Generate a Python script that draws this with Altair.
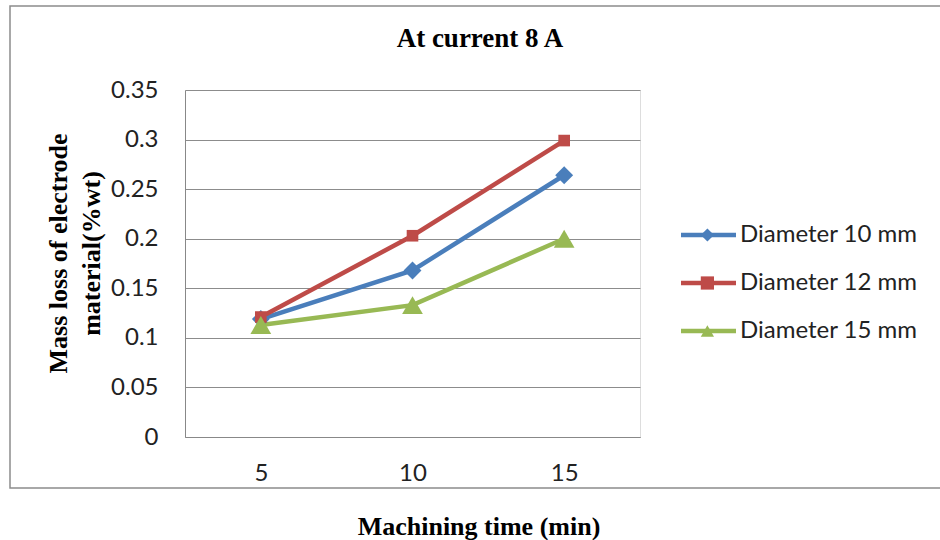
import altair as alt
import pandas as pd

times = [5, 10, 15]
series_names = ["Diameter 10 mm", "Diameter 12 mm", "Diameter 15 mm"]
d10 = [0.119, 0.168, 0.264]
d12 = [0.121, 0.203, 0.299]
d15 = [0.113, 0.133, 0.200]
y_ticks = [0, 0.05, 0.1, 0.15, 0.2, 0.25, 0.3, 0.35]

colors = ["#4A7EBB", "#BE4B48", "#98B954"]
shapes = ["diamond", "square", "triangle-up"]
point_sizes = [320, 135, 430]
marker_keys = ["m10", "m12", "m15"]

rows = []
for name, key, vals in zip(series_names, marker_keys, [d10, d12, d15]):
    for t, v in zip(times, vals):
        rows.append({"time": t, "value": v, "series": name, "marker": key})
df = pd.DataFrame(rows)

LABEL_FONT = "Lato"
SERIF = "Liberation Serif"

x_enc = alt.X(
    "time:O",
    scale=alt.Scale(type="point", padding=0.5),
    axis=alt.Axis(
        labelAngle=0, ticks=False, tickSize=0, labelPadding=24, grid=False,
        domainColor="#888888", domainWidth=1,
        labelFont=LABEL_FONT, labelFontSize=24, labelColor="#222222",
        title="Machining time (min)", titleFont=SERIF, titleFontWeight="bold",
        titleFontSize=26, titleColor="#000000",
        titleX=293.5, titleY=89, titleBaseline="middle", titleAlign="center",
    ),
)
y_enc = alt.Y(
    "value:Q",
    scale=alt.Scale(domain=[0, 0.35], nice=False, zero=True),
    axis=alt.Axis(
        values=y_ticks, format="~g", grid=True, gridColor="#8c8c8c", gridWidth=1,
        ticks=False, tickSize=0, labelPadding=27,
        domainColor="#888888", domainWidth=1,
        labelFont=LABEL_FONT, labelFontSize=24, labelColor="#222222",
        title=["Mass loss of electrode", "material(%wt)"],
        titleFont=SERIF, titleFontWeight="bold", titleFontSize=26,
        titleColor="#000000", titleLineHeight=33,
        titleAngle=270, titleX=-140, titleY=163,
        titleBaseline="top", titleAlign="center",
    ),
)

legend_common = dict(
    title=None, orient="none", legendY=133,
    labelFont=LABEL_FONT, labelFontSize=24, labelLimit=400,
    rowPadding=24, padding=0, direction="vertical",
)

border = alt.Chart(pd.DataFrame({"k": [0]})).mark_rect(
    fill="white", fillOpacity=0, stroke="#8c8c8c", strokeWidth=1.5
).encode(
    x=alt.value(-175), x2=alt.value(800), y=alt.value(-84), y2=alt.value(398)
)

lines = alt.Chart(df).mark_line(strokeWidth=4.5).encode(
    x=x_enc, y=y_enc,
    color=alt.Color(
        "series:N",
        scale=alt.Scale(domain=series_names, range=colors),
        legend=alt.Legend(symbolType="M-5,0H5", symbolStrokeWidth=4.5, symbolSize=121,
                          legendX=511.5, labelOffset=19.5,
                          labelColor="#222222", **legend_common),
    ),
)

marker_legend = alt.Legend(labelExpr="''", symbolStrokeWidth=0, symbolSize=175,
                           legendX=510.4, labelOffset=20,
                           symbolOpacity=1, **legend_common)

point_layers = []
for key, sz in zip(marker_keys, point_sizes):
    point_layers.append(
        alt.Chart(df).transform_filter(alt.datum.marker == key)
        .mark_point(filled=True, opacity=1, size=sz)
        .encode(
            x=x_enc, y=y_enc,
            shape=alt.Shape("marker:N", scale=alt.Scale(domain=marker_keys, range=shapes),
                            legend=marker_legend),
            fill=alt.Fill("marker:N", scale=alt.Scale(domain=marker_keys, range=colors),
                          legend=marker_legend),
        )
    )

chart = alt.layer(border, lines, *point_layers).properties(
    width=455, height=347,
    title=alt.TitleParams(
        "At current 8 A", font=SERIF, fontWeight="bold", fontSize=27,
        color="#000000", anchor="middle", frame="group", dx=67.5,
        offset=0, dy=61, baseline="middle",
    ),
    autosize=alt.AutoSizeParams(type="none"),
    padding={"left": 185, "top": 90, "right": 300, "bottom": 103},
).configure_view(stroke=None).configure(background="white")

chart.save("out.html", embed_options={"renderer": "svg", "actions": False})
